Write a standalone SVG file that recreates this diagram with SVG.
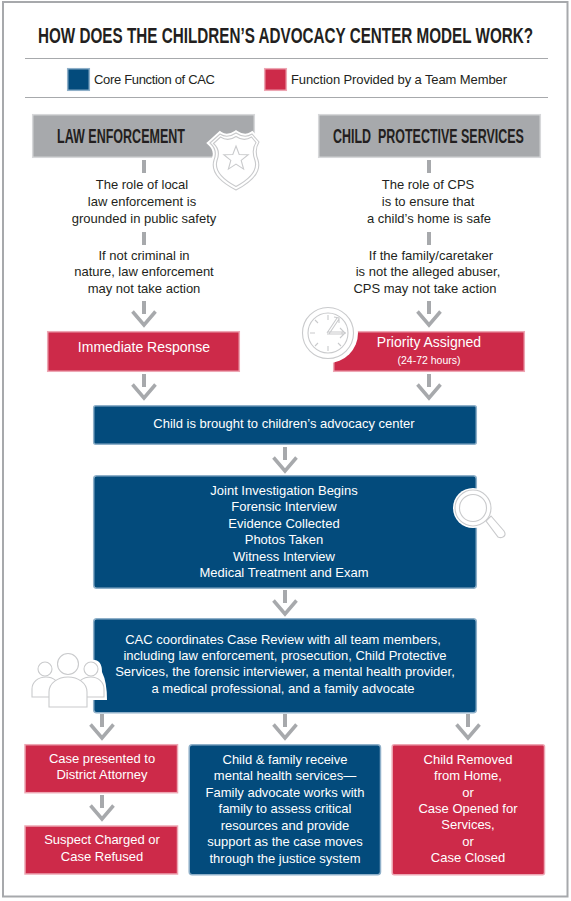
<svg xmlns="http://www.w3.org/2000/svg" width="571" height="901" viewBox="0 0 571 901">
<style>
.t{font-family:"Liberation Sans",Arial,sans-serif;font-size:13px;text-anchor:middle;fill:#231f20}
.w{fill:#fff}
.h{font-family:"Liberation Sans",Arial,sans-serif;font-weight:700;fill:#231f20}
.blue{fill:#034b7c;stroke:#8fb0c9;stroke-width:1.5}
.red{fill:#cd2a49;stroke:#eda6b3;stroke-width:1.5}
.gray{fill:#a7a9ac;stroke:#d7d8da;stroke-width:1.5}
.stem{fill:none;stroke:#a7a9ac;stroke-width:4}
.chev{fill:none;stroke:#a7a9ac;stroke-width:3.5}
.ico{fill:#fff;stroke:#c9cacc;stroke-width:1.1}
.lin{fill:none;stroke:#c9cacc;stroke-width:1.1}
</style>
<defs>
<g id="arrow"><path class="stem" d="M0 0V13"/><path class="chev" d="M-11.500 10.500L0 24L11.500 10.500"/></g>
</defs>
<rect width="571" height="901" fill="#fff"/>
<rect x="3" y="2" width="564.500" height="894.500" fill="none" stroke="#a7a9ac" stroke-width="2"/>
<text id="title" class="h" transform="translate(38 43) scale(.67 1)" font-size="22" textLength="739" lengthAdjust="spacingAndGlyphs">HOW DOES THE CHILDREN’S ADVOCACY CENTER MODEL WORK?</text>
<path d="M25 58.500H548M25 97.500H548" stroke="#a7a9ac" stroke-width="1" fill="none"/>
<g id="legend">
<rect class="blue" x="67.700" y="68.700" width="21.600" height="21.600"/>
<text class="t" style="text-anchor:start" x="94" y="84" textLength="121">Core Function of CAC</text>
<rect class="red" x="264.700" y="68.700" width="21.600" height="21.600"/>
<text class="t" style="text-anchor:start" x="291" y="84" textLength="216">Function Provided by a Team Member</text>
</g>
<g id="connectors">
<path class="stem" d="M144 160V173M144 232V245M429 160V173M429 232V245"/>
<use href="#arrow" x="144" y="301"/>
<use href="#arrow" x="429" y="301"/>
<use href="#arrow" x="144" y="374"/>
<use href="#arrow" x="429" y="374"/>
<use href="#arrow" x="285" y="447"/>
<use href="#arrow" x="285" y="590"/>
<use href="#arrow" x="102" y="714"/>
<use href="#arrow" x="285" y="714"/>
<use href="#arrow" x="468" y="714"/>
<use href="#arrow" x="102" y="795"/>
</g>
<g id="law">
<rect class="gray" x="32.700" y="114.700" width="221.600" height="42.600"/>
<text class="h" transform="translate(57 143) scale(.67 1)" font-size="20.500" textLength="191" lengthAdjust="spacingAndGlyphs">LAW ENFORCEMENT</text>
<path d="M210 143L220 134Q227 139 236 133Q245 139 252 134L259 142Q254 150 258 160Q263 176 236 190Q209 176 214 160Q218 150 210 143Z" fill="#fff" stroke="#fff" stroke-width="5"/>
<path class="ico" d="M210 143L220 134Q227 139 236 133Q245 139 252 134L259 142Q254 150 258 160Q263 176 236 190Q209 176 214 160Q218 150 210 143Z"/>
<path class="ico" d="M213.500 143.500L220.500 137Q228 142 236 136.500Q244 142 251.500 137L256 142.500Q251 150 255 160.500Q259 174 236 186.500Q213 174 217 160.500Q221 150 213.500 143.500Z"/>
<path class="ico" d="M236 146l3.200 8.500 9 .3-7 5.600 2.400 8.700-7.600-5-7.600 5 2.400-8.700-7-5.600 9-.3z"/>
</g>
<g id="cps">
<rect class="gray" x="318.700" y="114.700" width="221.600" height="42.600"/>
<text class="h" transform="translate(333 143) scale(.6 1)" font-size="20.500" textLength="318" lengthAdjust="spacingAndGlyphs" xml:space="preserve">CHILD  PROTECTIVE SERVICES</text>
</g>
<g id="lawtext">
<text class="t" x="142" y="189">The role of local</text>
<text class="t" x="142" y="206">law enforcement is</text>
<text class="t" x="144" y="223">grounded in public safety</text>
<text class="t" x="144" y="260">If not criminal in</text>
<text class="t" x="144" y="276">nature, law enforcement</text>
<text class="t" x="144" y="293">may not take action</text>
</g>
<g id="cpstext">
<text class="t" x="428" y="189">The role of CPS</text>
<text class="t" x="428" y="206">is to ensure that</text>
<text class="t" x="429" y="223">a child’s home is safe</text>
<text class="t" x="431" y="260">If the family/caretaker</text>
<text class="t" x="428" y="276">is not the alleged abuser,</text>
<text class="t" x="425" y="293">CPS may not take action</text>
</g>
<g id="immediate">
<rect class="red" x="47.700" y="331.700" width="191.600" height="39.600"/>
<text class="t w" x="144" y="352" style="font-size:14px">Immediate Response</text>
</g>
<g id="priority">
<rect class="red" x="333.700" y="331.700" width="190.600" height="39.600"/>
<text class="t w" x="429" y="347" style="font-size:14px">Priority Assigned</text>
<text class="t w" x="429" y="364" style="font-size:10.500px">(24-72 hours)</text>
<circle cx="328" cy="333" r="30" fill="#fff"/>
<circle class="ico" cx="328" cy="333" r="25.500"/>
<circle class="ico" cx="328" cy="333" r="20"/>
<path class="lin" d="M328 315v5M328 346v5M310 333h5M341 333h5M315 320l3 3M338 343l3 3M315 346l3-3"/>
<path class="lin" d="M327 333l10-15M329 334l10-15M327 332h16M327 334h16M334 317l5 1 0 5M340 328l5 5-5 5"/>
</g>
<g id="arrive">
<rect class="blue" x="93.700" y="405.700" width="382.600" height="38.600" rx="2"/>
<text class="t w" x="284" y="428">Child is brought to children’s advocacy center</text>
</g>
<g id="investigation">
<rect class="blue" x="93.700" y="475.700" width="382.600" height="112.600" rx="3"/>
<text class="t w" x="284" y="495">Joint Investigation Begins</text>
<text class="t w" x="284" y="511">Forensic Interview</text>
<text class="t w" x="284" y="528">Evidence Collected</text>
<text class="t w" x="284" y="544">Photos Taken</text>
<text class="t w" x="284" y="561">Witness Interview</text>
<text class="t w" x="284" y="577">Medical Treatment and Exam</text>
<circle cx="473" cy="508" r="20" fill="#fff"/>
<path class="ico" d="M486 521l5-5 13 15c2 3 1 5-1 6-2 1-3 1-5 0z"/>
<circle class="ico" cx="473" cy="508" r="18"/>
<circle class="ico" cx="473" cy="508" r="13.500"/>
</g>
<g id="review">
<rect class="blue" x="93.700" y="618.700" width="382.600" height="94" rx="3"/>
<text class="t w" x="283" y="644">CAC coordinates Case Review with all team members,</text>
<text class="t w" x="285" y="660">including law enforcement, prosecution, Child Protective</text>
<text class="t w" x="285" y="676">Services, the forensic interviewer, a mental health provider,</text>
<text class="t w" x="283" y="693">a medical professional, and a family advocate</text>
<path d="M90 660Q102 658 102 672Q107 682 107 700H90Z" fill="#fff"/>
<g id="people">
<path class="ico" d="M32 697V689C32 682 38 677 46 677C53 677 60 682 60 689V697Z"/>
<path class="ico" d="M76 697V689C76 682 83 677 91 677C98 677 104 682 104 689V697Z"/>
<circle class="ico" cx="45" cy="669" r="7"/>
<circle class="ico" cx="91" cy="669" r="7"/>
<path class="ico" d="M49 707V692C49 683 58 677 68 677C78 677 87 683 87 692V707Z"/>
<circle class="ico" cx="68" cy="664" r="10.500"/>
</g>
</g>
<g id="da">
<rect class="red" x="25" y="744.700" width="152.500" height="48"/>
<text class="t w" x="102" y="763">Case presented to</text>
<text class="t w" x="102" y="779">District Attorney</text>
</g>
<g id="charged">
<rect class="red" x="25" y="826" width="152.500" height="48"/>
<text class="t w" x="102" y="844">Suspect Charged or</text>
<text class="t w" x="102" y="861">Case Refused</text>
</g>
<g id="services">
<rect class="blue" x="189.200" y="744.700" width="191.300" height="130" rx="3"/>
<text class="t w" x="285" y="764">Child &amp; family receive</text>
<text class="t w" x="285" y="780">mental health services—</text>
<text class="t w" x="285" y="797">Family advocate works with</text>
<text class="t w" x="285" y="813">family to assess critical</text>
<text class="t w" x="285" y="830">resources and provide</text>
<text class="t w" x="285" y="846">support as the case moves</text>
<text class="t w" x="285" y="863">through the justice system</text>
</g>
<g id="removed">
<rect class="red" x="392.200" y="744.700" width="152.300" height="130" rx="2"/>
<text class="t w" x="468" y="764">Child Removed</text>
<text class="t w" x="468" y="780">from Home,</text>
<text class="t w" x="468" y="797">or</text>
<text class="t w" x="468" y="813">Case Opened for</text>
<text class="t w" x="468" y="829">Services,</text>
<text class="t w" x="468" y="846">or</text>
<text class="t w" x="468" y="862">Case Closed</text>
</g>
</svg>
